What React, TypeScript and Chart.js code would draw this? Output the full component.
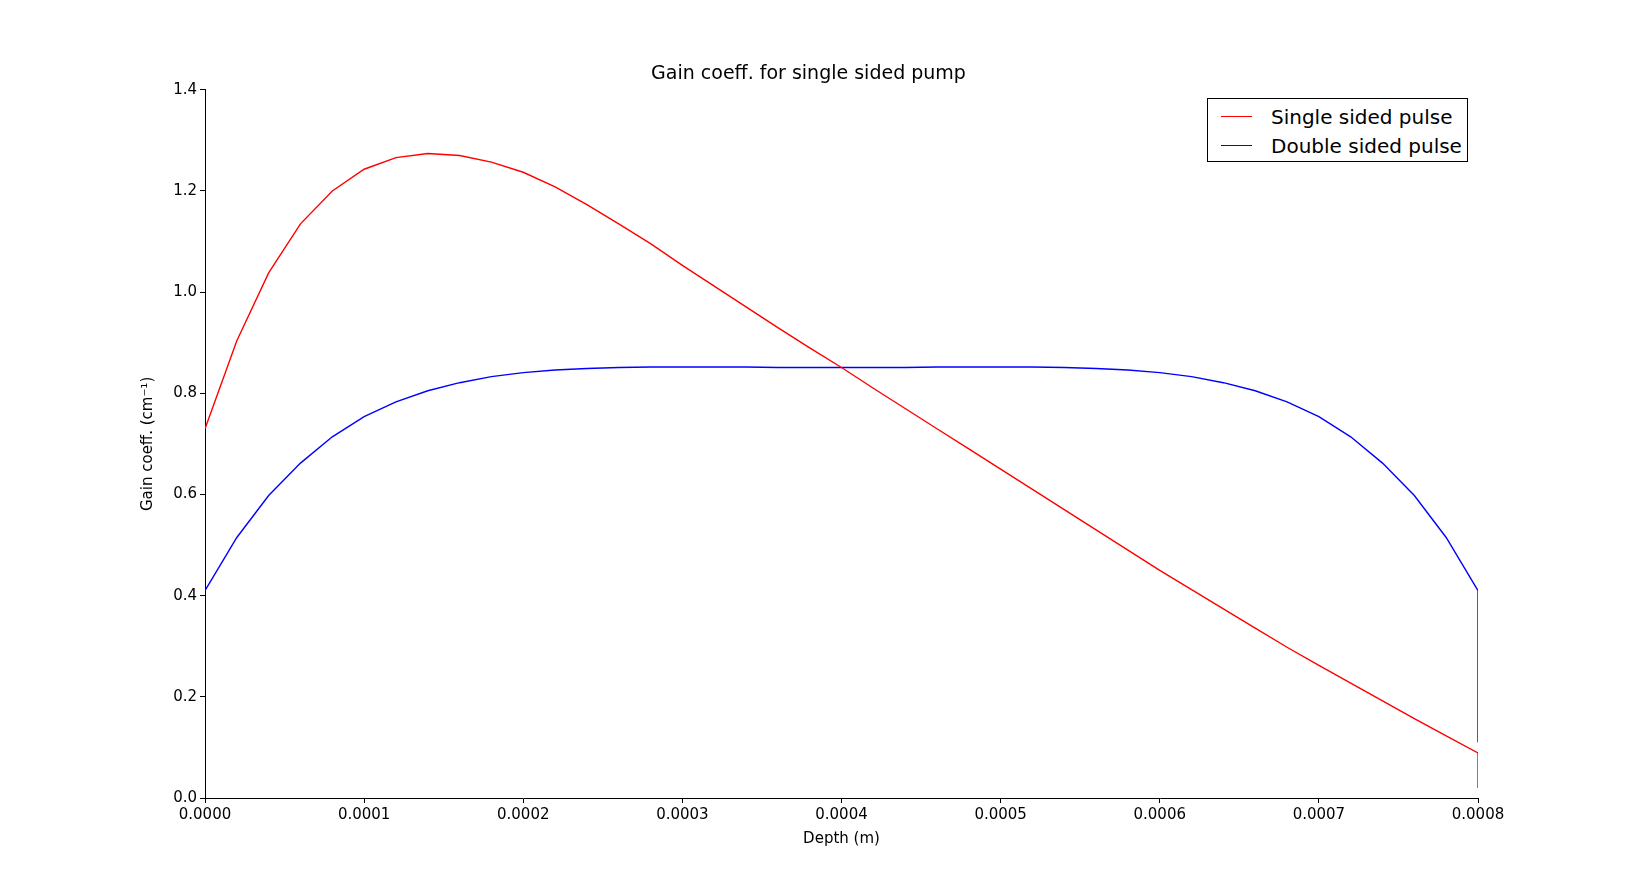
import React, { useEffect, useRef } from "react";
import { Chart, registerables } from "chart.js";

Chart.register(...registerables);

// depth positions (m), 0 .. 0.0008 step 0.00002
const depths: number[] = Array.from({ length: 41 }, (_, i) => +(i * 0.00002).toFixed(5));

const singleSided: number[] = [
  0.73, 0.904, 1.038, 1.135, 1.2, 1.243, 1.266, 1.274, 1.27, 1.257,
  1.237, 1.208, 1.173, 1.135, 1.096, 1.053, 1.012, 0.971, 0.93, 0.89,
  0.851, 0.81, 0.77, 0.73, 0.69, 0.65, 0.61, 0.57, 0.53, 0.49,
  0.45, 0.412, 0.374, 0.336, 0.298, 0.262, 0.227, 0.192, 0.157, 0.123,
  0.089,
];
const singleEnd = 0.02;

const doubleSided: number[] = [
  0.41, 0.515, 0.598, 0.662, 0.714, 0.754, 0.783, 0.805, 0.821, 0.833,
  0.841, 0.846, 0.849, 0.851, 0.852, 0.852, 0.852, 0.852, 0.851, 0.851,
  0.851, 0.851, 0.851, 0.852, 0.852, 0.852, 0.852, 0.851, 0.849, 0.846,
  0.841, 0.833, 0.821, 0.805, 0.783, 0.754, 0.714, 0.662, 0.598, 0.515,
  0.41,
];
const doubleEnd = 0.11;

const FONT = "'DejaVu Sans', sans-serif";

const toPoints = (vals: number[], end: number) => {
  const pts = vals.map((y, i) => ({ x: depths[i], y }));
  pts.push({ x: 0.0008, y: end });
  return pts;
};

const App: React.FC = () => {
  const canvasRef = useRef<HTMLCanvasElement | null>(null);

  useEffect(() => {
    const ctx = canvasRef.current?.getContext("2d");
    if (!ctx) return;
    const chart = new Chart(ctx, {
      type: "scatter",
      data: {
        datasets: [
          {
            label: "Single sided pulse",
            data: toPoints(singleSided, singleEnd),
            borderColor: "#ff0000",
            borderWidth: 1.4,
            showLine: true,
            pointRadius: 0,
          },
          {
            label: "Double sided pulse",
            data: toPoints(doubleSided, doubleEnd),
            borderColor: "#0000ff",
            borderWidth: 1.4,
            showLine: true,
            pointRadius: 0,
          },
        ],
      },
      options: {
        animation: false,
        responsive: true,
        maintainAspectRatio: false,
        layout: { padding: { left: 139, right: 163, top: 0, bottom: 39 } },
        plugins: {
          legend: { display: false },
          tooltip: { enabled: false },
          title: {
            display: true,
            text: "Gain coeff. for single sided pump",
            color: "#000",
            font: { family: FONT, size: 19, weight: "normal" },
            padding: { top: 63, bottom: 4 },
          },
        },
        scales: {
          x: {
            type: "linear",
            min: 0,
            max: 0.0008,
            afterFit: (s: any) => { s.height = 50; },
            ticks: {
              stepSize: 0.0001,
              color: "#000",
              font: { family: FONT, size: 15 },
              callback: (v: any) => Number(v).toFixed(4),
              maxRotation: 0,
            },
            grid: { drawOnChartArea: false, color: "#000", tickLength: 5 },
            border: { color: "#000", width: 1 },
            title: { display: true, text: "Depth (m)", color: "#000", font: { family: FONT, size: 15 }, padding: 0 },
          },
          y: {
            min: 0,
            max: 1.4,
            afterFit: (s: any) => { s.width = 66; },
            ticks: {
              stepSize: 0.2,
              color: "#000",
              font: { family: FONT, size: 15 },
              callback: (v: any) => Number(v).toFixed(1),
            },
            grid: { drawOnChartArea: false, color: "#000", tickLength: 5 },
            border: { color: "#000", width: 1 },
            title: { display: true, text: "Gain coeff. (cm⁻¹)", color: "#000", font: { family: FONT, size: 15 }, padding: 0 },
          },
        },
      },
    });
    return () => chart.destroy();
  }, []);

  const row = (color: string, text: string) => (
    <div style={{ display: "flex", alignItems: "center", height: 29 }}>
      <div style={{ width: 31, height: 0, borderTop: `1.4px solid ${color}`, margin: "0 19px 0 13px" }} />
      <span>{text}</span>
    </div>
  );

  return (
    <div style={{ position: "fixed", left: 0, top: 0, width: 1641, height: 887, background: "#fff" }}>
      <canvas ref={canvasRef}></canvas>
      <div
        style={{
          position: "absolute",
          left: 1207,
          top: 98,
          width: 261,
          height: 64,
          border: "1px solid #000",
          background: "#fff",
          fontFamily: FONT,
          fontSize: 20,
          paddingTop: 3,
          boxSizing: "border-box",
        }}
      >
        {row("#ff0000", "Single sided pulse")}
        {row("#0000ff", "Double sided pulse")}
      </div>
    </div>
  );
};

export default App;
